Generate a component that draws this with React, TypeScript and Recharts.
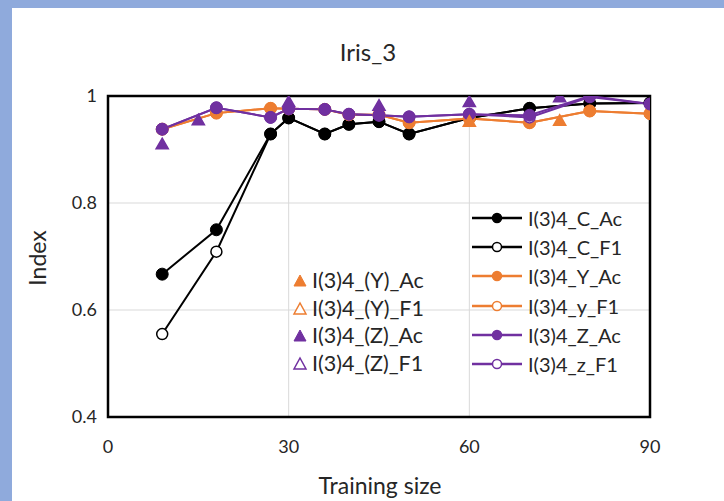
import React from 'react';
import { ComposedChart, Line, Scatter, XAxis, YAxis, CartesianGrid, ReferenceArea } from 'recharts';

const trainingSizes = [9, 18, 27, 30, 36, 40, 45, 50, 60, 70, 80, 90];
const cAc = [0.667, 0.75, 0.929, 0.959, 0.929, 0.947, 0.952, 0.929, 0.959, 0.977, 0.986, 0.987];
const cF1 = [0.555, 0.709, 0.929, 0.959, 0.929, 0.947, 0.952, 0.929, 0.959, 0.977, 0.986, 0.987];
const yAc = [0.938, 0.968, 0.977, 0.976, 0.975, 0.965, 0.965, 0.95, 0.958, 0.95, 0.972, 0.967];
const yF1 = [0.938, 0.968, 0.977, 0.976, 0.975, 0.965, 0.965, 0.95, 0.958, 0.95, 0.972, 0.967];
const zAc = [0.938, 0.978, 0.96, 0.976, 0.975, 0.966, 0.964, 0.961, 0.966, 0.964, 1.0, 0.985];
const zF1 = [0.938, 0.978, 0.96, 0.976, 0.975, 0.966, 0.964, 0.961, 0.966, 0.96, 0.998, 0.985];

const triZAcX = [9, 15, 30, 45, 60, 75];
const triZAcY = [0.908, 0.953, 0.987, 0.98, 0.987, 0.996];
const triYAcX = [60, 75];
const triYAcY = [0.95, 0.952];

const xTicks = [0, 30, 60, 90];
const yTicks = [0.4, 0.6, 0.8, 1];

const BLACK = '#000000';
const ORANGE = '#ed7d31';
const PURPLE = '#7030a0';
const FONT = 'Lato, "Open Sans", sans-serif';

const rows = trainingSizes.map((x, i) => ({
  x,
  cAc: cAc[i],
  cF1: cF1[i],
  yAc: yAc[i],
  yF1: yF1[i],
  zAc: zAc[i],
  zF1: zF1[i],
}));
const triZAc = triZAcX.map((x, i) => ({ x, y: triZAcY[i] }));
const triYAc = triYAcX.map((x, i) => ({ x, y: triYAcY[i] }));

const lineLegend = [
  { name: 'I(3)4_C_Ac', color: BLACK, filled: true },
  { name: 'I(3)4_C_F1', color: BLACK, filled: false },
  { name: 'I(3)4_Y_Ac', color: ORANGE, filled: true },
  { name: 'I(3)4_y_F1', color: ORANGE, filled: false },
  { name: 'I(3)4_Z_Ac', color: PURPLE, filled: true },
  { name: 'I(3)4_z_F1', color: PURPLE, filled: false },
];
const triLegend = [
  { name: 'I(3)4_(Y)_Ac', color: ORANGE, filled: true },
  { name: 'I(3)4_(Y)_F1', color: ORANGE, filled: false },
  { name: 'I(3)4_(Z)_Ac', color: PURPLE, filled: true },
  { name: 'I(3)4_(Z)_F1', color: PURPLE, filled: false },
];

const fmt = (v: number) => (v === 1 ? '1' : v === 0 ? '0' : String(v));

export default function App() {
  const tickStyle = { fontFamily: FONT, fontSize: 18, fill: '#262626' };
  return (
    <div style={{ position: 'fixed', left: 0, top: 0, width: 724, height: 501, background: '#8faadc', overflow: 'hidden' }}>
      <div style={{ position: 'absolute', left: 12, top: 8, width: 712, height: 493, background: '#ffffff' }} />
      <div style={{ position: 'absolute', left: 0, top: 0 }}>
        <ComposedChart width={724} height={501} data={rows} margin={{ top: 96, right: 74, left: 0, bottom: 0 }}>
          <CartesianGrid stroke="#d9d9d9" strokeWidth={1} />
          <XAxis
            type="number"
            dataKey="x"
            domain={[0, 90]}
            ticks={xTicks}
            height={84}
            tickSize={0}
            tickMargin={23}
            axisLine={false}
            tick={tickStyle}
            allowDataOverflow
          />
          <YAxis
            type="number"
            domain={[0.4, 1]}
            ticks={yTicks}
            width={108}
            tickSize={0}
            tickMargin={11}
            axisLine={false}
            tick={tickStyle}
            tickFormatter={fmt}
            allowDataOverflow
          />
          <ReferenceArea x1={0} x2={90} y1={0.4} y2={1} fill="none" stroke="#000" strokeWidth={2.5} ifOverflow="visible" />
          <Line dataKey="cF1" stroke={BLACK} strokeWidth={2} isAnimationActive={false}
            dot={{ r: 5.5, fill: '#fff', stroke: BLACK, strokeWidth: 1.5 }} />
          <Line dataKey="cAc" stroke={BLACK} strokeWidth={2} isAnimationActive={false}
            dot={{ r: 6, fill: BLACK, stroke: BLACK, strokeWidth: 1 }} />
          <Line dataKey="yF1" stroke={ORANGE} strokeWidth={2} isAnimationActive={false}
            dot={{ r: 5.5, fill: '#fff', stroke: ORANGE, strokeWidth: 1.5 }} />
          <Line dataKey="yAc" stroke={ORANGE} strokeWidth={2} isAnimationActive={false}
            dot={{ r: 6, fill: ORANGE, stroke: ORANGE, strokeWidth: 1 }} />
          <Line dataKey="zF1" stroke={PURPLE} strokeWidth={2} isAnimationActive={false}
            dot={{ r: 5.5, fill: '#fff', stroke: PURPLE, strokeWidth: 1.5 }} />
          <Line dataKey="zAc" stroke={PURPLE} strokeWidth={2} isAnimationActive={false}
            dot={{ r: 6, fill: PURPLE, stroke: PURPLE, strokeWidth: 1 }} />
          <Scatter data={triYAc} dataKey="y" shape="triangle" fill="#fff" stroke={ORANGE} strokeWidth={1.5} isAnimationActive={false} />
          <Scatter data={triYAc} dataKey="y" shape="triangle" fill={ORANGE} isAnimationActive={false} />
          <Scatter data={triZAc} dataKey="y" shape="triangle" fill="#fff" stroke={PURPLE} strokeWidth={1.5} isAnimationActive={false} />
          <Scatter data={triZAc} dataKey="y" shape="triangle" fill={PURPLE} isAnimationActive={false} />
        </ComposedChart>
      </div>

      <div style={{ position: 'absolute', left: 268, top: 37, width: 200, textAlign: 'center', fontFamily: FONT, fontSize: 24, color: '#262626', lineHeight: '30px' }}>
        Iris_3
      </div>
      <div style={{ position: 'absolute', left: 230, top: 471, width: 300, textAlign: 'center', fontFamily: FONT, fontSize: 23, color: '#262626', lineHeight: '28px' }}>
        Training size
      </div>
      <div style={{ position: 'absolute', left: 37 - 50, top: 258 - 14, width: 100, height: 28, textAlign: 'center', fontFamily: FONT, fontSize: 23, color: '#262626', lineHeight: '28px', transform: 'rotate(-90deg)' }}>
        Index
      </div>

      {lineLegend.map((it, i) => (
        <div key={it.name} style={{ position: 'absolute', left: 470, top: 218 + i * 29.2 - 13, height: 26, display: 'flex', alignItems: 'center', fontFamily: FONT, fontSize: 20, color: '#262626', whiteSpace: 'nowrap' }}>
          <svg width={54} height={26} style={{ marginRight: 4 }}>
            <line x1={2} y1={13} x2={52} y2={13} stroke={it.color} strokeWidth={2.5} />
            <circle cx={27} cy={13} r={4.5} fill={it.filled ? it.color : '#fff'} stroke={it.color} strokeWidth={1.5} />
          </svg>
          {it.name}
        </div>
      ))}

      {triLegend.map((it, i) => (
        <div key={it.name} style={{ position: 'absolute', left: 292, top: 280 + i * 27.6 - 13, height: 26, display: 'flex', alignItems: 'center', fontFamily: FONT, fontSize: 21.5, color: '#262626', whiteSpace: 'nowrap' }}>
          <svg width={16} height={26} style={{ marginRight: 4 }}>
            <polygon points="2,19 14,19 8,8" fill={it.filled ? it.color : '#fff'} stroke={it.color} strokeWidth={it.filled ? 1 : 1.5} />
          </svg>
          {it.name}
        </div>
      ))}
    </div>
  );
}
